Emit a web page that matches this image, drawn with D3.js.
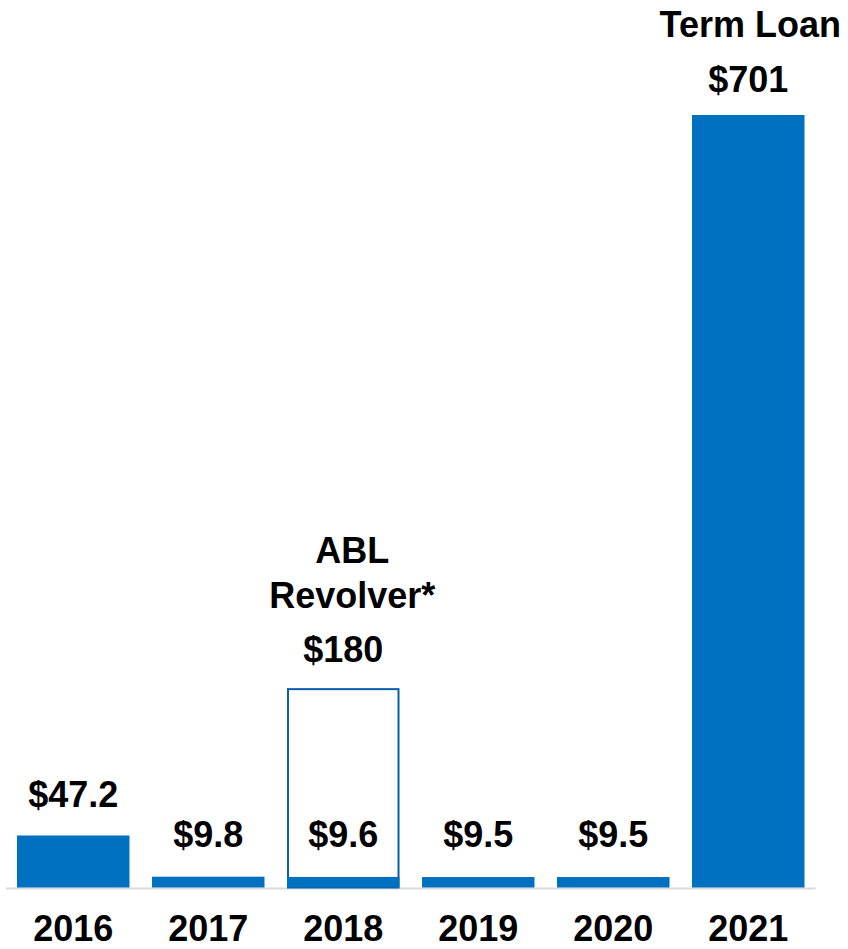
<!DOCTYPE html>
<html>
<head>
<meta charset="utf-8">
<script src="https://cdn.jsdelivr.net/npm/d3@7"></script>
<style>
    body { margin: 0; background: #fff; }
    text { font-family: "Liberation Sans", Arial, sans-serif; font-weight: bold; fill: #000; }
</style>
</head>
<body>
<div class="main_content"></div>
<script>
// Debt maturities ($M) by year
const years = ['2016', '2017', '2018', '2019', '2020', '2021'];
const maturities = [47.2, 9.8, 9.6, 9.5, 9.5, 701];
const valueLabels = ['$47.2', '$9.8', '$9.6', '$9.5', '$9.5', '$701'];

// Undrawn ABL revolver shown as an outline in 2018
const revolverYear = '2018';
const revolverAmount = 180;
const revolverLabel = ['ABL', 'Revolver*', '$180'];
const termLoanLabel = 'Term Loan';

const width = 848, height = 949;
const baseline = 887.5;

let svg = d3.select('.main_content').append('svg')
    .attr('width', width)
    .attr('height', height);

let xScale = d3.scaleBand()
    .domain(years)
    .range([5.75, 815.75])
    .paddingInner(1 / 6)
    .paddingOuter(1 / 12);

let yScale = d3.scaleLinear()
    .domain([0, 701])
    .range([baseline, 115]);

let blue = '#0070c0';

// axis line
svg.append('line')
    .attr('x1', xScale.range()[0])
    .attr('x2', xScale.range()[1])
    .attr('y1', baseline + 1)
    .attr('y2', baseline + 1)
    .style('stroke', '#d9d9d9')
    .style('stroke-width', 2);

// revolver outline
svg.append('rect')
    .attr('x', xScale(revolverYear) + 1)
    .attr('y', yScale(revolverAmount))
    .attr('width', xScale.bandwidth() - 2)
    .attr('height', baseline - yScale(revolverAmount))
    .style('fill', 'none')
    .style('stroke', '#0a5fad')
    .style('stroke-width', 2);

// bars
svg.selectAll('rect.bar')
    .data(maturities)
    .enter().append('rect')
    .classed('bar', true)
    .attr('x', (d, i) => xScale(years[i]))
    .attr('y', d => yScale(d))
    .attr('width', xScale.bandwidth())
    .attr('height', d => baseline - yScale(d))
    .style('fill', blue);

// value labels
svg.selectAll('text.value')
    .data(maturities)
    .enter().append('text')
    .classed('value', true)
    .attr('x', (d, i) => xScale(years[i]) + xScale.bandwidth() / 2)
    .attr('y', (d, i) => i === 5 ? 92 : Math.min(yScale(d) - 28, 847))
    .style('text-anchor', 'middle')
    .style('font-size', '36px')
    .text((d, i) => valueLabels[i]);

// term loan label
svg.append('text')
    .attr('x', xScale('2021') + xScale.bandwidth() / 2 + 2)
    .attr('y', 37)
    .style('text-anchor', 'middle')
    .style('font-size', '36px')
    .text(termLoanLabel);

// revolver labels
let revolverY = [563, 608, 662];
svg.selectAll('text.revolver')
    .data(revolverLabel)
    .enter().append('text')
    .classed('revolver', true)
    .attr('x', (d, i) => xScale(revolverYear) + xScale.bandwidth() / 2 + (i < 2 ? 9 : 0))
    .attr('y', (d, i) => revolverY[i])
    .style('text-anchor', 'middle')
    .style('font-size', '36px')
    .text(d => d);

// year labels
svg.selectAll('text.year')
    .data(years)
    .enter().append('text')
    .classed('year', true)
    .attr('x', d => xScale(d) + xScale.bandwidth() / 2)
    .attr('y', 941)
    .style('text-anchor', 'middle')
    .style('font-size', '36px')
    .text(d => d);
</script>
</body>
</html>
